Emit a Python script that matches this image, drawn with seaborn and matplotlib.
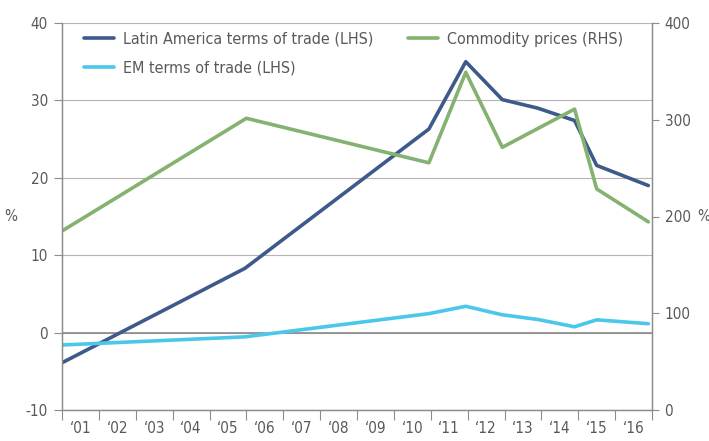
import numpy as np
import pandas as pd
import matplotlib
matplotlib.use('Agg')
import matplotlib.pyplot as plt
import seaborn as sns

# ----------------------------------------------------------------------------------------------------------------------
# Data
# ----------------------------------------------------------------------------------------------------------------------

year_labels = ['\u201801', '\u201802', '\u201803', '\u201804', '\u201805', '\u201806', '\u201807', '\u201808',
               '\u201809', '\u201810', '\u201811', '\u201812', '\u201813', '\u201814', '\u201815', '\u201816']

tot_x = [2001.0, 2005.96, 2010.95, 2011.95, 2012.94, 2013.9, 2014.9, 2015.5, 2016.9]
latam_tot = [-3.9, 8.3, 26.3, 35.0, 30.1, 29.0, 27.4, 21.6, 19.0]
em_tot = [-1.6, -0.55, 2.45, 3.4, 2.3, 1.7, 0.75, 1.65, 1.15]

commodity_x = [2001.0, 2006.0, 2010.95, 2011.95, 2012.94, 2014.9, 2015.5, 2016.9]
commodity_prices = [185, 301.5, 255.5, 349, 271.5, 311, 228.5, 194.5]

# ----------------------------------------------------------------------------------------------------------------------
# Plot
# ----------------------------------------------------------------------------------------------------------------------

sns.set_style('white')
plt.rcParams['font.family'] = ['DejaVu Sans']
plt.rcParams['font.stretch'] = 'condensed'
plt.rcParams['axes.unicode_minus'] = False
text_color = '#595959'
axis_color = '#8c8c8c'
fs = 11

col_latam = '#3d5a8a'
col_em = '#4cc7ec'
col_comm = '#84b270'

fig = plt.figure(figsize=(7.09, 4.41), dpi=100)
ax = fig.add_axes([62 / 709, 31 / 441, 590 / 709, 387 / 441])
ax2 = ax.twinx()

df_tot = pd.DataFrame({'x': tot_x, 'latam': latam_tot, 'em': em_tot})
df_comm = pd.DataFrame({'x': commodity_x, 'value': commodity_prices})

lw = 2.6
sns.lineplot(data=df_tot, x='x', y='latam', ax=ax, color=col_latam, linewidth=lw, legend=False)
sns.lineplot(data=df_tot, x='x', y='em', ax=ax, color=col_em, linewidth=lw, legend=False)
sns.lineplot(data=df_comm, x='x', y='value', ax=ax2, color=col_comm, linewidth=lw, legend=False)

# axes ranges
ax.set_xlim(2001, 2017)
ax.set_ylim(-10, 40)
ax2.set_ylim(0, 400)

# x ticks: marks between years, labels centred
ax.set_xticks(np.arange(2001, 2018))
ax.set_xticklabels([])
ax.set_xticks(np.arange(2001, 2017) + 0.5, minor=True)
ax.set_xticklabels(year_labels, minor=True)
ax.tick_params(axis='x', which='major', direction='out', length=7, width=0.8, color=axis_color, bottom=True)
ax.tick_params(axis='x', which='minor', length=0, pad=8, labelsize=fs, labelcolor=text_color)

ax.set_yticks(np.arange(-10, 41, 10))
ax.tick_params(axis='y', direction='out', length=6, width=0.8, color=axis_color, left=True, pad=4,
               labelsize=fs, labelcolor=text_color)
ax2.set_yticks(np.arange(0, 401, 100))
ax2.tick_params(axis='y', direction='out', length=5, width=0.8, color=axis_color, right=True, pad=4,
                labelsize=fs, labelcolor=text_color)

ax.yaxis.grid(True, color='#b5b5b5', linewidth=0.8)
ax.axhline(0, color='#8a8a8a', linewidth=1.2, zorder=1)
ax.set_axisbelow(True)

for a in (ax, ax2):
    a.spines['top'].set_visible(False)
    for side in ('left', 'right', 'bottom'):
        a.spines[side].set_color(axis_color)
        a.spines[side].set_linewidth(0.9)

ax.set_xlabel('')
ax.set_ylabel('%', rotation=0, fontsize=fs, color=text_color, labelpad=6, ha='right', va='center')
ax2.set_ylabel('%', rotation=0, fontsize=fs, color=text_color, labelpad=5, ha='left', va='center')

# legends: two left-hand series in one block, commodity prices to the right
leg_kw = dict(frameon=False, fontsize=fs + 0.5, labelcolor=text_color, handlelength=1.9, handletextpad=0.55,
              labelspacing=0.85, borderaxespad=0, borderpad=0, loc='upper left')
ax.legend(ax.get_lines()[:2], ['Latin America terms of trade (LHS)', 'EM terms of trade (LHS)'],
          bbox_to_anchor=(22 / 590, 1 - 9 / 387), **leg_kw)
ax2.legend(ax2.get_lines()[:1], ['Commodity prices (RHS)'], bbox_to_anchor=(346 / 590, 1 - 9 / 387), **leg_kw)

fig.savefig('out.png', dpi=100)
